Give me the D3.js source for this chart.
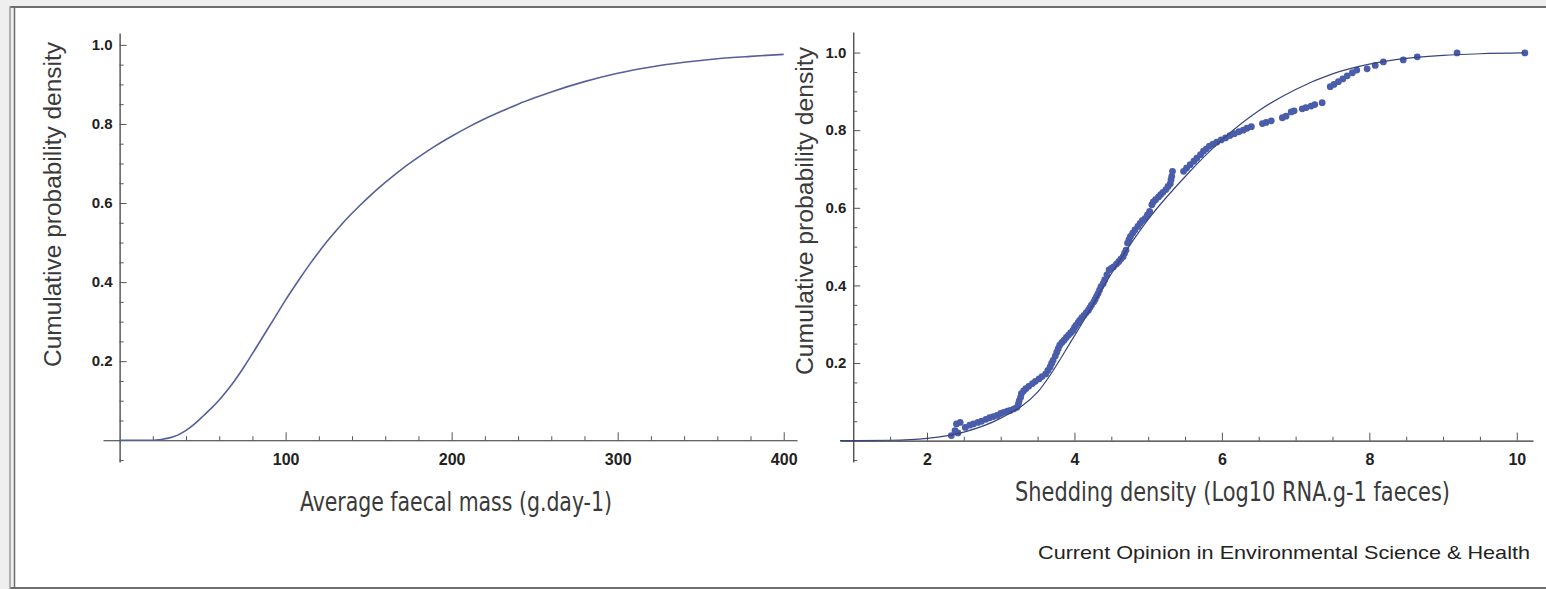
<!DOCTYPE html>
<html>
  <head>
    <meta charset="utf-8">
    <title>Faecal mass and shedding density</title>
    <script src="https://cdn.jsdelivr.net/npm/d3@7"></script>
    <style>
      body { margin: 0; background: #fff; }
      svg { display: block; }
      .tick text { font-family: "Liberation Sans", Arial, sans-serif; font-weight: bold; fill: #222; }
      .title { font-family: "Liberation Sans Narrow", "DejaVu Sans Condensed", sans-serif; fill: #3a3a3a; }
      .ytitle { font-family: "Liberation Sans", Arial, sans-serif; fill: #3a3a3a; }
    </style>
  </head>
  <body>
    <svg id="chart" width="1546" height="589"></svg>

    <script>
      // left panel: cumulative curve of average faecal mass
      massValues = [0, 20, 25, 30, 35, 40, 45, 50, 55, 60, 65, 70, 75, 80, 85, 90, 95, 100,
        105, 110, 115, 120, 125, 130, 135, 140, 145, 150, 160, 170, 180, 190, 200, 210, 220,
        230, 240, 250, 260, 280, 300, 320, 340, 360, 380, 400];
      massProb = [0, 0, 0.002, 0.006, 0.013, 0.025, 0.041, 0.06, 0.08, 0.102, 0.127, 0.155,
        0.186, 0.219, 0.253, 0.287, 0.321, 0.355, 0.387, 0.418, 0.448, 0.476, 0.503, 0.528,
        0.552, 0.574, 0.595, 0.615, 0.652, 0.686, 0.716, 0.744, 0.769, 0.792, 0.813, 0.832,
        0.85, 0.866, 0.881, 0.907, 0.928, 0.944, 0.956, 0.965, 0.971, 0.976];

      // right panel: fitted curve
      fitLog = [0.82, 1.5, 2, 2.5, 3, 3.5, 4, 4.5, 5, 5.5, 6, 6.5, 7, 7.5, 8, 8.5, 9, 9.5, 10.1];
      fitProb = [0, 0.001, 0.006, 0.022, 0.058, 0.125, 0.27, 0.43, 0.57, 0.68, 0.775, 0.85,
        0.905, 0.945, 0.97, 0.985, 0.993, 0.997, 0.999];

      // right panel: observed shedding densities
      shedLog = [2.33, 2.38, 2.4, 2.42, 2.45, 2.52, 2.58, 2.63, 2.69, 2.74, 2.8, 2.85, 2.9,
        2.95, 3, 3.04, 3.09, 3.13, 3.18, 3.22, 3.24, 3.25, 3.27, 3.28, 3.31, 3.34, 3.38, 3.43,
        3.47, 3.52, 3.56, 3.61, 3.64, 3.67, 3.69, 3.71, 3.74, 3.76, 3.78, 3.8, 3.83, 3.86, 3.89,
        3.92, 3.95, 3.98, 4, 4.02, 4.05, 4.07, 4.1, 4.13, 4.16, 4.19, 4.21, 4.23, 4.26, 4.28,
        4.3, 4.32, 4.34, 4.36, 4.39, 4.41, 4.44, 4.47, 4.5, 4.53, 4.57, 4.6, 4.63, 4.66, 4.68,
        4.7, 4.72, 4.74, 4.76, 4.79, 4.82, 4.86, 4.89, 4.92, 4.96, 4.99, 5.02, 5.05, 5.07, 5.1,
        5.14, 5.17, 5.2, 5.24, 5.27, 5.3, 5.31, 5.32, 5.33, 5.48, 5.52, 5.57, 5.62, 5.66, 5.71,
        5.75, 5.79, 5.83, 5.88, 5.93, 5.99, 6.05, 6.11, 6.17, 6.23, 6.29, 6.34, 6.4, 6.55, 6.6,
        6.67, 6.82, 6.87, 6.94, 6.98, 7.09, 7.14, 7.21, 7.26, 7.36, 7.47, 7.52, 7.58, 7.64, 7.7,
        7.77, 7.83, 7.97, 8.08, 8.19, 8.46, 8.65, 9.19, 10.11];
      shedProb = [0.013, 0.026, 0.043, 0.02, 0.047, 0.034, 0.04, 0.043, 0.047, 0.05, 0.055,
        0.059, 0.062, 0.065, 0.07, 0.073, 0.076, 0.078, 0.082, 0.086, 0.095, 0.103, 0.112,
        0.121, 0.128, 0.134, 0.14, 0.147, 0.153, 0.159, 0.165, 0.172, 0.181, 0.19, 0.199, 0.207,
        0.218, 0.228, 0.237, 0.246, 0.253, 0.259, 0.266, 0.272, 0.278, 0.284, 0.291, 0.297,
        0.304, 0.31, 0.317, 0.323, 0.33, 0.336, 0.343, 0.349, 0.357, 0.364, 0.372, 0.379, 0.388,
        0.397, 0.405, 0.414, 0.427, 0.44, 0.444, 0.448, 0.455, 0.461, 0.468, 0.474, 0.483,
        0.491, 0.509, 0.518, 0.526, 0.535, 0.543, 0.552, 0.56, 0.567, 0.573, 0.582, 0.591,
        0.608, 0.615, 0.621, 0.628, 0.634, 0.64, 0.647, 0.655, 0.662, 0.672, 0.681, 0.694,
        0.694, 0.702, 0.711, 0.72, 0.728, 0.737, 0.746, 0.752, 0.759, 0.764, 0.769, 0.775,
        0.78, 0.786, 0.791, 0.796, 0.8, 0.805, 0.809, 0.817, 0.82, 0.824, 0.832, 0.836, 0.847,
        0.85, 0.855, 0.858, 0.862, 0.866, 0.871, 0.912, 0.918, 0.925, 0.932, 0.94, 0.948,
        0.955, 0.958, 0.967, 0.976, 0.981, 0.989, 0.999, 0.999];

      // ticks and labels
      massTicks = [100, 200, 300, 400];
      massMinor = [20, 40, 60, 80, 120, 140, 160, 180, 220, 240, 260, 280, 320, 340, 360, 380];
      shedTicks = [2, 4, 6, 8, 10];
      shedMinor = [1.5, 2.5, 3, 3.5, 4.5, 5, 5.5, 6.5, 7, 7.5, 8.5, 9, 9.5];
      probTicks = [0.2, 0.4, 0.6, 0.8, 1.0];
      probMinor = [-0.05, 0.05, 0.1, 0.15, 0.25, 0.3, 0.35, 0.45, 0.5, 0.55, 0.65, 0.7, 0.75,
        0.85, 0.9, 0.95];

      yTitle = "Cumulative probability density";
      massTitle = "Average faecal mass (g.day-1)";
      shedTitle = "Shedding density (Log10 RNA.g-1 faeces)";
      credit = "Current Opinion in Environmental Science & Health";

      chart = d3.select("#chart");

      // frame
      chart.append("rect").attr("width", 1546).attr("height", 589).attr("fill", "#efefef");
      chart.append("rect").attr("x", 14).attr("y", 7).attr("width", 1532).attr("height", 581)
        .attr("fill", "#fff");
      chart.append("line").attr("x1", 10).attr("x2", 1546).attr("y1", 7).attr("y2", 7)
        .attr("stroke", "#6e6e6e").attr("stroke-width", 2);
      chart.append("line").attr("x1", 10).attr("x2", 1546).attr("y1", 588).attr("y2", 588)
        .attr("stroke", "#6e6e6e").attr("stroke-width", 2);
      chart.append("line").attr("x1", 10).attr("x2", 10).attr("y1", 6).attr("y2", 589)
        .attr("stroke", "#9a9a9a").attr("stroke-width", 1.5);
      chart.append("line").attr("x1", 14.5).attr("x2", 14.5).attr("y1", 7).attr("y2", 589)
        .attr("stroke", "#6e6e6e").attr("stroke-width", 1.5);

      // scales
      xMass = d3.scaleLinear().domain([-10, 408]).range([103, 797]);
      yMass = d3.scaleLinear().domain([-0.055, 1.03]).range([462, 33]);
      xShed = d3.scaleLinear().domain([0.82, 10.22]).range([840, 1533]);
      yShed = d3.scaleLinear().domain([-0.055, 1.053]).range([462, 32]);

      function drawAxes(x, y, xOrigin, xTicks, xMinor) {
        g = chart.append("g");

        xAxis = g.append("g").attr("transform", "translate(0," + y(0) + ")")
          .call(d3.axisBottom(x).tickValues(xTicks).tickSizeInner(-8).tickSizeOuter(0)
            .tickPadding(13).tickFormat(d3.format("d")));
        xAxis.selectAll("text").style("font-size", "16px");
        g.append("g").attr("transform", "translate(0," + y(0) + ")")
          .call(d3.axisBottom(x).tickValues(xMinor).tickSizeInner(-4).tickSizeOuter(0)
            .tickFormat(""))
          .select(".domain").remove();

        yAxis = g.append("g").attr("transform", "translate(" + x(xOrigin) + ",0)")
          .call(d3.axisLeft(y).tickValues(probTicks).tickSizeInner(-7).tickSizeOuter(0)
            .tickPadding(7).tickFormat(d3.format(".1f")));
        yAxis.selectAll("text").style("font-size", "15px");
        g.append("g").attr("transform", "translate(" + x(xOrigin) + ",0)")
          .call(d3.axisLeft(y).tickValues(probMinor).tickSizeInner(-4).tickSizeOuter(0)
            .tickFormat(""))
          .select(".domain").remove();

        g.selectAll(".domain").attr("stroke", "#333").attr("stroke-width", 1.2);
        g.selectAll(".tick line").attr("stroke", "#555");
      }

      drawAxes(xMass, yMass, 0, massTicks, massMinor);
      drawAxes(xShed, yShed, 1, shedTicks, shedMinor);

      // left curve
      massLine = d3.line()
        .x(function(d, i) { return xMass(massValues[i]); })
        .y(function(d) { return yMass(d); })
        .curve(d3.curveMonotoneX);

      chart.append("path")
        .attr("d", massLine(massProb))
        .attr("fill", "none")
        .attr("stroke", "#56609a")
        .attr("stroke-width", 1.6);

      // right points and fit
      chart.selectAll(".obs")
          .data(shedProb)
        .enter().append("circle")
          .classed("obs", true)
          .attr("cx", function(d, i) { return xShed(shedLog[i]); })
          .attr("cy", function(d) { return yShed(d); })
          .attr("r", 3.4)
          .attr("fill", "#4a5dab");

      fitLine = d3.line()
        .x(function(d, i) { return xShed(fitLog[i]); })
        .y(function(d) { return yShed(d); })
        .curve(d3.curveMonotoneX);

      chart.append("path")
        .attr("d", fitLine(fitProb))
        .attr("fill", "none")
        .attr("stroke", "#38457f")
        .attr("stroke-width", 1.2);

      // titles
      chart.append("text").classed("title", true)
        .attr("x", 300).attr("y", 511)
        .attr("textLength", 312).attr("lengthAdjust", "spacingAndGlyphs")
        .style("font-size", "26px")
        .text(massTitle);

      chart.append("text").classed("title", true)
        .attr("x", 1015).attr("y", 501)
        .attr("textLength", 435).attr("lengthAdjust", "spacingAndGlyphs")
        .style("font-size", "26px")
        .text(shedTitle);

      chart.append("text").classed("ytitle", true)
        .attr("transform", "translate(61,367) rotate(-90)")
        .attr("textLength", 325).attr("lengthAdjust", "spacingAndGlyphs")
        .style("font-size", "23px")
        .text(yTitle);

      chart.append("text").classed("ytitle", true)
        .attr("transform", "translate(813,375) rotate(-90)")
        .attr("textLength", 328).attr("lengthAdjust", "spacingAndGlyphs")
        .style("font-size", "23px")
        .text(yTitle);

      chart.append("text").classed("ytitle", true)
        .attr("x", 1038).attr("y", 559)
        .attr("textLength", 492).attr("lengthAdjust", "spacingAndGlyphs")
        .style("font-size", "19px")
        .style("fill", "#222")
        .text(credit);
    </script>
  </body>
</html>
